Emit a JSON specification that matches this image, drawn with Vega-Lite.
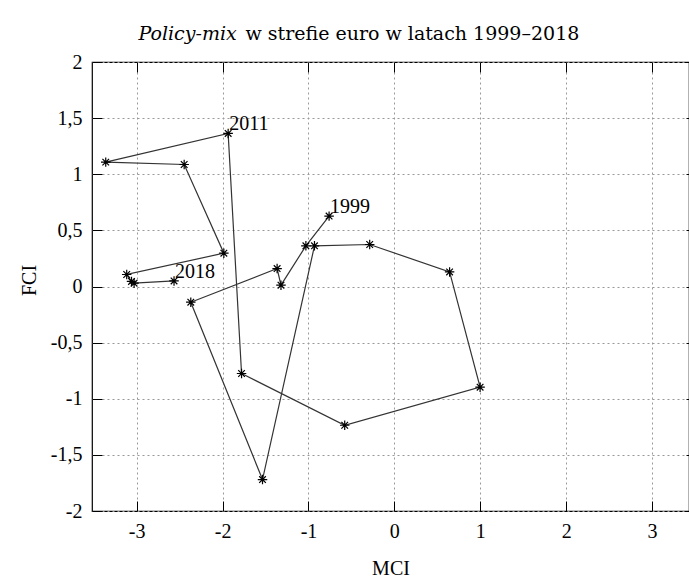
{
  "$schema": "https://vega.github.io/schema/vega-lite/v6.json",
  "width": 597,
  "height": 449,
  "autosize": "none",
  "padding": {"left": 92, "top": 62, "right": 0, "bottom": 66},
  "background": "white",
  "config": {
    "view": {"stroke": "#000", "strokeWidth": 1.2},
    "axis": {"labelFont": "Liberation Serif", "titleFont": "Liberation Serif", "labelColor": "#000", "titleColor": "#000", "labelFlush": false, "labelOverlap": false, "labelBound": false, "domain": false, "titleFontWeight": "normal"}
  },
  "data": {
    "values": [
      {"year": 1999, "mci": -0.76, "fci": 0.627, "label": "1999"},
      {"year": 2000, "mci": -1.03, "fci": 0.362, "label": ""},
      {"year": 2001, "mci": -1.32, "fci": 0.012, "label": ""},
      {"year": 2002, "mci": -1.365, "fci": 0.16, "label": ""},
      {"year": 2003, "mci": -2.37, "fci": -0.14, "label": ""},
      {"year": 2004, "mci": -1.535, "fci": -1.72, "label": ""},
      {"year": 2005, "mci": -0.93, "fci": 0.362, "label": ""},
      {"year": 2006, "mci": -0.287, "fci": 0.374, "label": ""},
      {"year": 2007, "mci": 0.643, "fci": 0.13, "label": ""},
      {"year": 2008, "mci": 0.998, "fci": -0.897, "label": ""},
      {"year": 2009, "mci": -0.578, "fci": -1.236, "label": ""},
      {"year": 2010, "mci": -1.779, "fci": -0.775, "label": ""},
      {"year": 2011, "mci": -1.935, "fci": 1.364, "label": "2011"},
      {"year": 2012, "mci": -3.36, "fci": 1.108, "label": ""},
      {"year": 2013, "mci": -2.447, "fci": 1.087, "label": ""},
      {"year": 2014, "mci": -1.985, "fci": 0.297, "label": ""},
      {"year": 2015, "mci": -3.116, "fci": 0.107, "label": ""},
      {"year": 2016, "mci": -3.06, "fci": 0.045, "label": ""},
      {"year": 2017, "mci": -3.03, "fci": 0.03, "label": ""},
      {"year": 2018, "mci": -2.565, "fci": 0.05, "label": "2018"}
    ]
  },
  "layer": [
    {
      "mark": {"type": "line", "color": "#333", "strokeWidth": 1.2},
      "encoding": {
        "x": {"field": "mci", "type": "quantitative", "scale": {"domain": [-3.52, 3.43], "nice": false, "zero": false},
          "axis": {"orient": "bottom", "values": [-3, -2, -1, 0, 1, 2, 3], "grid": true, "gridDash": [2, 3], "gridColor": "#999", "gridWidth": 1,
            "ticks": true, "tickSize": -10, "tickColor": "#000", "tickWidth": 1, "labelPadding": 20, "labelBaseline": "top",
            "labelExpr": "datum.value + ''", "labelFontSize": 20, "title": "MCI", "titleFontSize": 20, "titleX": 298.5, "titleY": 57, "titleBaseline": "middle", "titleAlign": "center"}},
        "y": {"field": "fci", "type": "quantitative", "scale": {"domain": [-2, 2], "nice": false, "zero": false},
          "axis": {"orient": "left", "values": [-2, -1.5, -1, -0.5, 0, 0.5, 1, 1.5, 2], "grid": true, "gridDash": [2, 3], "gridColor": "#999", "gridWidth": 1,
            "ticks": true, "tickSize": -10, "tickColor": "#000", "tickWidth": 1, "labelPadding": 20,
            "labelExpr": "replace(datum.value + '', '.', ',')", "labelFontSize": 20, "title": "FCI", "titleFontSize": 20, "titleAngle": -90, "titleX": -63, "titleY": 218, "titleBaseline": "middle", "titleAlign": "center"}},
        "order": {"field": "year", "type": "quantitative"}
      }
    },
    {
      "mark": {"type": "point", "shape": "M-1,0L1,0M0,-1L0,1M-0.7,-0.7L0.7,0.7M-0.7,0.7L0.7,-0.7", "filled": false, "color": "#000", "size": 90, "strokeWidth": 1.2, "opacity": 1},
      "encoding": {
        "x": {"field": "mci", "type": "quantitative",
          "axis": {"orient": "top", "values": [-3, -2, -1, 0, 1, 2, 3], "grid": false, "ticks": true, "tickSize": -10, "tickColor": "#000", "labels": false,
            "title": "Policy-mix", "titleFont": "DejaVu Serif", "titleFontStyle": "italic", "titleFontSize": 19, "titleX": 46, "titleY": -23, "titleAlign": "left", "titleBaseline": "alphabetic"}},
        "y": {"field": "fci", "type": "quantitative",
          "axis": {"orient": "right", "values": [-2, -1.5, -1, -0.5, 0, 0.5, 1, 1.5, 2], "grid": false, "ticks": true, "tickSize": -3, "tickColor": "#000", "labels": false, "title": null}}
      }
    },
    {
      "transform": [{"filter": "datum.label != ''"}],
      "mark": {"type": "text", "align": "left", "baseline": "alphabetic", "dx": 1, "dy": -3, "font": "Liberation Serif", "fontSize": 20, "color": "#000"},
      "encoding": {
        "x": {"field": "mci", "type": "quantitative",
          "axis": {"orient": "top", "grid": false, "ticks": false, "labels": false,
            "title": "w strefie euro w latach 1999–2018", "titleFont": "DejaVu Serif", "titleFontStyle": "normal", "titleFontSize": 19, "titleX": 153, "titleY": -23, "titleAlign": "left", "titleBaseline": "alphabetic"}},
        "y": {"field": "fci", "type": "quantitative", "axis": null},
        "text": {"field": "label"}
      }
    }
  ],
  "resolve": {"axis": {"x": "independent", "y": "independent"}}
}
